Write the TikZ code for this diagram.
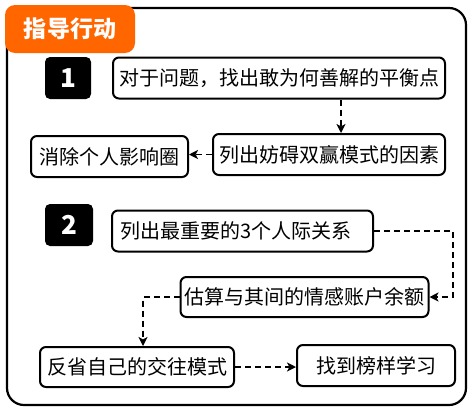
\documentclass[tikz,border=0pt]{standalone}
\usepackage{fontspec}
\setmainfont{Noto Sans CJK SC}
\usetikzlibrary{positioning,arrows.meta,calc}

\definecolor{tabOrange}{RGB}{255,102,0}

\begin{document}
\begin{tikzpicture}[
  x=0.5pt, y=-0.5pt,
  font=\fontsize{10pt}{12pt}\selectfont,
  stepbox/.style  = {draw, line width=1pt, rounded corners=3pt,
                     minimum height=20.5pt, inner sep=2pt, align=center},
  badge/.style    = {fill=black, rounded corners=2.5pt, minimum width=23pt,
                     minimum height=21pt, inner sep=0pt, text=white,
                     font=\fontsize{13pt}{14pt}\selectfont\bfseries},
  arrow/.style    = {-{Stealth[length=4.5pt,width=4.5pt,inset=1.2pt]},
                     line width=0.75pt, dash pattern=on 3pt off 2pt},
]
\useasboundingbox (0,0) rectangle (475,412);

% ===== Frame and title tab =====
\draw[line width=1.1pt, rounded corners=8.5pt] (7,8) rectangle (466,405);
\fill[tabOrange, rounded corners=5pt] (5,5) rectangle (135,53);
\node[text=white, font=\fontsize{11.5pt}{13pt}\selectfont\bfseries]
      (title) at (70,29) {指导行动};

% ===== Part 1 =====
\node[badge] (num1) at (68,78) {1};
\node[stepbox, minimum width=166pt] (find) at (279,78)
      {对于问题，找出敢为何善解的平衡点};
\node[stepbox, minimum width=116pt] (list) at (329,154.5)
      {列出妨碍双赢模式的因素};
\node[stepbox, minimum width=78.5pt] (remove) at (109.5,156.5)
      {消除个人影响圈};

\draw[arrow] ([xshift=6pt]list.north |- find.south) -- ([xshift=6pt]list.north);
\draw[arrow] (list.west) -- (list.west -| remove.east);

% ===== Part 2 =====
\node[badge, minimum width=24pt] (num2) at (69,225) {2};
\node[stepbox, minimum width=130.5pt, text width=122pt, align=left]
      (top3) at (242.5,231) {列出最重要的3个人际关系};
\node[stepbox, minimum width=123.5pt, minimum height=20pt] (account)
      at (304.5,297) {估算与其间的情感账户余额};
\node[stepbox, minimum width=97pt, minimum height=20pt] (reflect)
      at (137,367) {反省自己的交往模式};
\node[stepbox, minimum width=79pt] (model) at (376,365.5) {找到榜样学习};

% ===== Connectors =====
\draw[arrow] (top3.east) -- ++(39.5pt,0) |- (account.east);
\draw[arrow] (account.west) -| ([xshift=3pt]reflect.north);
\draw[arrow] (reflect.east) -- (reflect.east -| model.west);

\end{tikzpicture}
\end{document}
